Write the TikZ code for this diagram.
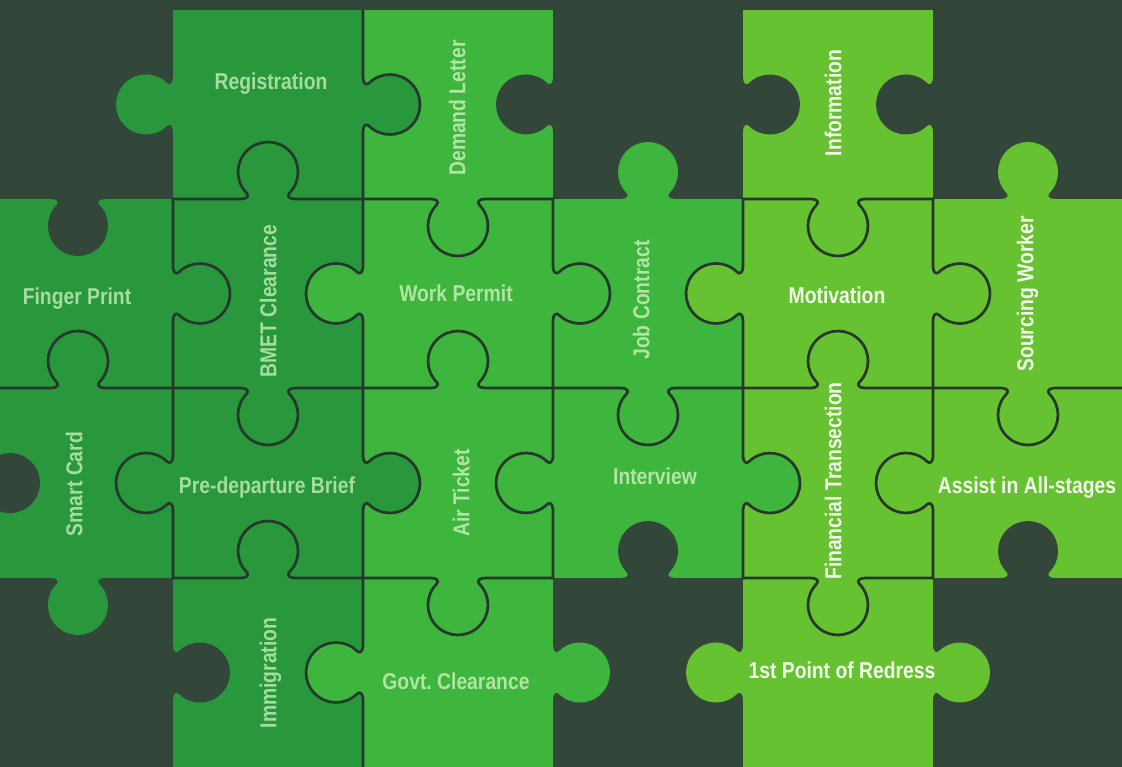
\documentclass[tikz,border=0pt]{standalone}
\usepackage{fontspec}
\setmainfont{Liberation Sans}[FakeStretch=0.84]
\frenchspacing
\definecolor{bgc}{HTML}{33463A}
\definecolor{seamc}{HTML}{26372B}
\definecolor{gA}{HTML}{29973C}
\definecolor{gB}{HTML}{3EB53C}
\definecolor{gC}{HTML}{67C232}
\definecolor{tA}{HTML}{A5DCA0}
\definecolor{tB}{HTML}{B2E4A4}
\definecolor{tC}{HTML}{F2FBEA}
% knob: x, y (image coords), rotation (0 up, 180 down, 90 left, -90 right), owner colour
\newcommand\knobfill[4]{%
  \fill[#4,shift={(#1,-#2)},rotate=#3] (-27,0) .. controls (-21,0) and (-18.6,3.1) .. (-21.4,6)
    arc[start angle=224.4,end angle=-44.4,radius=30] .. controls (18.6,3.1) and (21,0) .. (27,0) -- cycle;}
\newcommand\seamknob[5]{%
  \knobfill{#1}{#2}{#3}{#4}%
  \draw[seamline,shift={(#1,-#2)},rotate=#3] (-#5,0) -- (-27,0) .. controls (-21,0) and (-18.6,3.1) .. (-21.4,6)
    arc[start angle=224.4,end angle=-44.4,radius=30] .. controls (18.6,3.1) and (21,0) .. (27,0) -- (#5,0);}
\begin{document}
\begin{tikzpicture}[x=1pt,y=1pt,
  seamline/.style={draw=seamc,line width=2.7pt,line join=round,line cap=round},
  lbl/.style={font=\fontsize{23}{26}\selectfont\bfseries,inner sep=0pt,text height=16.5pt,text depth=0pt}]
\useasboundingbox (0,0) rectangle (1122,-767);
\fill[bgc] (0,0) rectangle (1122,-767);
% pieces
\fill[gA] (173,-10) rectangle (363,-199);
\fill[gB] (363,-10) rectangle (553,-199);
\fill[gC] (743,-10) rectangle (933,-199);
\fill[gA] (-17,-199) rectangle (363,-578);
\fill[gB] (363,-199) rectangle (743,-578);
\fill[gC] (743,-199) rectangle (1123,-578);
\fill[gA] (173,-578) rectangle (363,-767);
\fill[gB] (363,-578) rectangle (553,-767);
\fill[gC] (743,-578) rectangle (933,-767);
% row 0 vertical edges
\knobfill{173}{104.5}{90}{gA}
\seamknob{363}{104.5}{-90}{gA}{94.5}
\knobfill{553}{104.5}{90}{bgc}
\knobfill{743}{104.5}{-90}{bgc}
\knobfill{933}{104.5}{90}{bgc}
% y = 199
\knobfill{78}{199}{180}{bgc}
\seamknob{268}{199}{0}{gA}{95}
\seamknob{458}{199}{180}{gB}{95}
\knobfill{648}{199}{0}{gB}
\seamknob{838}{199}{180}{gC}{95}
\knobfill{1028}{199}{0}{gC}
% row 1 vertical edges
\seamknob{173}{293.5}{-90}{gA}{94.5}
\seamknob{363}{293.5}{90}{gB}{94.5}
\seamknob{553}{293.5}{-90}{gB}{94.5}
\seamknob{743}{293.5}{90}{gC}{94.5}
\seamknob{933}{293.5}{-90}{gC}{94.5}
% y = 388
\seamknob{78}{388}{0}{gA}{95}
\seamknob{268}{388}{180}{gA}{95}
\seamknob{458}{388}{0}{gB}{95}
\seamknob{648}{388}{180}{gB}{95}
\seamknob{838}{388}{0}{gC}{95}
\seamknob{1028}{388}{180}{gC}{95}
% row 2 vertical edges
\knobfill{-17}{483}{-90}{bgc}
\seamknob{173}{483}{90}{gA}{95}
\seamknob{363}{483}{-90}{gA}{95}
\seamknob{553}{483}{90}{gB}{95}
\seamknob{743}{483}{-90}{gB}{95}
\seamknob{933}{483}{90}{gC}{95}
% y = 578
\knobfill{78}{578}{180}{gA}
\seamknob{268}{578}{0}{gA}{95}
\seamknob{458}{578}{180}{gB}{95}
\knobfill{648}{578}{0}{bgc}
\seamknob{838}{578}{180}{gC}{95}
\knobfill{1028}{578}{0}{bgc}
% row 3 vertical edges
\knobfill{173}{672.5}{-90}{bgc}
\seamknob{363}{672.5}{90}{gB}{94.5}
\knobfill{553}{672.5}{-90}{gB}
\knobfill{743}{672.5}{90}{gC}
\knobfill{933}{672.5}{-90}{gC}
% labels
\node[lbl,text=tA] (registration) at (271,-81) {Registration};
\node[lbl,text=tB,rotate=90] (demand) at (457,-108) {Demand Letter};
\node[lbl,text=tC,rotate=90] (information) at (833,-103) {Information};
\node[lbl,text=tA] (finger) at (77,-296) {Finger Print};
\node[lbl,text=tA,rotate=90] (bmet) at (268,-301) {BMET Clearance};
\node[lbl,text=tB] (workpermit) at (456,-293) {Work Permit};
\node[lbl,text=tB,rotate=90] (jobcontract) at (641,-300) {Job Contract};
\node[lbl,text=tC] (motivation) at (837,-295) {Motivation};
\node[lbl,text=tC,rotate=90] (sourcing) at (1025,-294) {Sourcing Worker};
\node[lbl,text=tA,rotate=90] (smartcard) at (74,-484) {Smart Card};
\node[lbl,text=tA] (predeparture) at (267,-485) {Pre-departure Brief};
\node[lbl,text=tB,rotate=90] (airticket) at (461,-493) {Air Ticket};
\node[lbl,text=tB] (interview) at (655,-476) {Interview};
\node[lbl,text=tC,rotate=90] (financial) at (833,-481) {Financial Transection};
\node[lbl,text=tC] (assist) at (1027,-485) {Assist in All-stages};
\node[lbl,text=tA,rotate=90] (immigration) at (268,-673) {Immigration};
\node[lbl,text=tB] (govt) at (456,-681) {Govt. Clearance};
\node[lbl,text=tC] (redress) at (842,-670) {1st Point of Redress};
\end{tikzpicture}
\end{document}
